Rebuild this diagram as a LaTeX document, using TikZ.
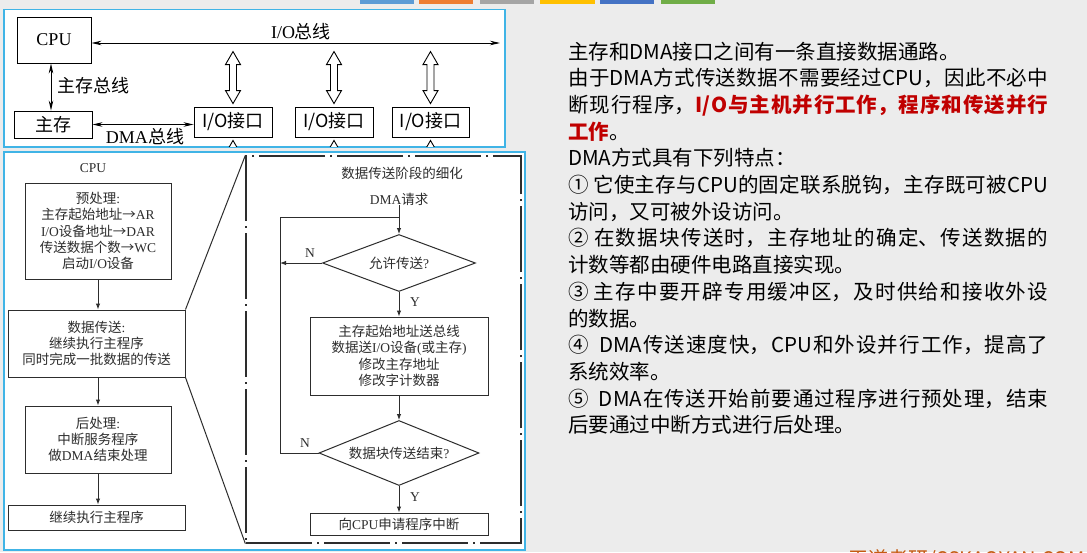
\documentclass[tikz,border=0pt]{standalone}
\usepackage{fontspec}
\setmainfont{Liberation Serif}
\newfontfamily\cjk{Noto Sans CJK SC}
\newfontfamily\lat{Liberation Serif}
\usetikzlibrary{arrows.meta,shapes.geometric}
\XeTeXlinebreaklocale "zh"
\XeTeXlinebreakskip=0pt plus 4pt
\newcommand\en[1]{{\lat #1}}
\newcommand\szA{\fontsize{18pt}{20pt}\selectfont}
\newcommand\szC{\fontsize{13.5pt}{16.3pt}\selectfont}
\newcommand\szR{\fontsize{20.5pt}{26.7pt}\selectfont}
\definecolor{bg}{RGB}{236,236,236}
\definecolor{panel}{RGB}{64,180,230}
\definecolor{ink}{RGB}{45,45,45}
\definecolor{hl}{RGB}{192,0,0}
\definecolor{wm}{RGB}{197,90,17}
\definecolor{barA}{RGB}{91,155,213}
\definecolor{barB}{RGB}{237,125,49}
\definecolor{barC}{RGB}{165,165,165}
\definecolor{barD}{RGB}{255,192,0}
\definecolor{barE}{RGB}{68,114,196}
\definecolor{barF}{RGB}{112,173,71}
\newcommand\hollowup[1]{\draw[hol] (#1.north) ++(0,-3) -- ++(7.5,-13) -- ++(-4,0) -- ++(0,-26) -- ++(4,0) -- ++(-7.5,-13) -- ++(-7.5,13) -- ++(4,0) -- ++(0,26) -- ++(-4,0) -- cycle;}
\newcommand\hollowdown[1]{\draw[hol] (#1.south) ++(0,3) -- ++(7.5,13) -- ++(-4,0) -- ++(0,26) -- ++(4,0) -- ++(-7.5,13) -- ++(-7.5,-13) -- ++(4,0) -- ++(0,-26) -- ++(-4,0) -- cycle;}
\tikzset{
  tbox/.style={draw=black, line width=0.9pt, inner sep=0, fill=white},
  dbl/.style={draw=black, line width=0.9pt, {Stealth[length=10pt,width=4.5pt]}-{Stealth[length=10pt,width=4.5pt]}},
  hol/.style={draw=black, line width=0.9pt, fill=white},
  ln/.style={draw=ink, line width=1pt},
  arr/.style={ln, -{Latex[length=6pt,width=4.5pt]}},
  fbox/.style={draw=ink, line width=1pt, inner sep=0, align=center, font=\szC\cjk, text=ink},
  lbl/.style={inner sep=0, font=\szC\cjk, text=ink},
  dia/.style={diamond, draw=ink, line width=1pt, inner sep=0, font=\szC\cjk, text=ink},
  panelbox/.style={draw=panel, line width=1.5pt, fill=white}
}
\begin{document}
\begin{tikzpicture}[x=1pt,y=-1pt]
\useasboundingbox (0,0) rectangle (1087,552);
\fill[bg] (0,0) rectangle (1087,552);
% top colour bars
\fill[barA] (360,0) rectangle (414,4);
\fill[barB] (419,0) rectangle (473,4);
\fill[barC] (480,0) rectangle (534,4);
\fill[barD] (540,0) rectangle (595,4);
\fill[barE] (600,0) rectangle (654,4);
\fill[barF] (661,0) rectangle (715,4);
% panels
\draw[panelbox] (4,9.5) rectangle (505,147);
\draw[panelbox] (4,152) rectangle (525,550);

% ---------- top panel ----------
\node[tbox, minimum width=74pt, minimum height=46pt, font=\szA] (cpu) at (54,40) {CPU};
\node[tbox, minimum width=78pt, minimum height=27pt, font=\szA\cjk] (mem) at (53,124.5) {主存};
\node[tbox, minimum width=78pt, minimum height=30pt, font=\szA\cjk] (io1) at (233,122) {I/O接口};
\node[tbox, minimum width=78pt, minimum height=30pt, font=\szA\cjk] (io2) at (334,122) {I/O接口};
\node[tbox, minimum width=77pt, minimum height=30pt, font=\szA\cjk] (io3) at (430.5,122) {I/O接口};
\coordinate (busR) at (500,43);
\draw[dbl] (cpu.east |- busR) -- (busR);
\node[inner sep=0, font=\szA\cjk] (iobus) at (301,32) {\en{I/O}总线};
\draw[dbl] ([xshift=-3pt]cpu.south) -- ([xshift=-3pt]cpu.south |- mem.north);
\node[inner sep=0, font=\szA\cjk, anchor=west] (membus) at (57,86) {主存总线};
\draw[dbl] (mem.east) -- (mem.east -| io1.west);
\node[inner sep=0, font=\szA\cjk] (dmabus) at (145,137) {\en{DMA}总线};
\hollowup{io1}
\hollowup{io2}
\hollowup{io3}
\begin{scope}
\clip (4,9.5) rectangle (505,146.2);
\hollowdown{io1}
\hollowdown{io2}
\hollowdown{io3}
\end{scope}

% ---------- bottom-left flow ----------
\node[lbl, font=\szC] (cpulbl) at (93,168) {CPU};
\node[fbox, minimum width=146pt, minimum height=96pt] (b1) at (98,231)
  {预处理\en{:}\\主存起始地址→\en{AR}\\\en{I/O}设备地址→\en{DAR}\\传送数据个数→\en{WC}\\启动\en{I/O}设备};
\node[fbox, minimum width=177pt, minimum height=67pt] (b2) at (96.5,343.5)
  {数据传送\en{:}\\继续执行主程序\\同时完成一批数据的传送};
\node[fbox, minimum width=146pt, minimum height=67pt] (b3) at (98,439.5)
  {后处理\en{:}\\中断服务程序\\做\en{DMA}结束处理};
\node[fbox, minimum width=177pt, minimum height=25pt] (b4) at (96.5,517.5) {继续执行主程序};
\draw[arr] (b1.south) -- (b1.south |- b2.north);
\draw[arr] (b1.south |- b2.south) -- (b1.south |- b3.north);
\draw[arr] (b3.south) -- (b3.south |- b4.north);

% ---------- detail box ----------
\node[draw=ink, line width=1.3pt, dash pattern=on 66pt off 5pt on 2pt off 5pt, minimum width=275pt, minimum height=387pt, inner sep=0] (detail) at (383.5,349.5) {};
\draw[ln] (b2.north east) -- (detail.north west);
\draw[ln] (b2.south east) -- (detail.south west);
\node[lbl] (dtitle) at (402,173) {数据传送阶段的细化};
\node[lbl] (req) at (399,199) {\en{DMA}请求};
\node[dia, aspect=2.68, minimum width=153pt, minimum height=57pt] (d1) at (399,263) {允许传送\en{?}};
\node[fbox, minimum width=178pt, minimum height=78pt] (p) at (399,356)
  {主存起始地址送总线\\数据送\en{I/O}设备\en{(}或主存\en{)}\\修改主存地址\\修改字计数器};
\node[dia, aspect=2.46, minimum width=160pt, minimum height=65pt] (d2) at (399,453) {数据块传送结束\en{?}};
\node[fbox, minimum width=178pt, minimum height=22pt] (irq) at (399,524) {向\en{CPU}申请程序中断};
\coordinate (lc) at (280,217);
\coordinate (jn) at (399,217);
\draw[arr] (req.south) -- (d1.north);
\draw[ln] (d2.west) -| (lc) -- (jn);
\draw[arr] (d1.west) -- (d1.west -| lc);
\draw[arr] (d1.south) -- (p.north);
\draw[arr] (p.south) -- (d2.north);
\draw[arr] (d2.south) -- (irq.north);
\node[lbl, font=\szC] (n1) at (310,253) {N};
\node[lbl, font=\szC] (n2) at (305,443) {N};
\node[lbl, font=\szC] (y1) at (415,302) {Y};
\node[lbl, font=\szC] (y2) at (415,497) {Y};

% ---------- right text ----------
\node[anchor=base west, inner sep=0, text width=480pt, align=justify, font=\szR\cjk] (txt) at (568,59) {\tolerance=10000
主存和DMA接口之间有一条直接数据通路。\\
由于DMA方式传送数据不需要经过CPU，因此不必中\linebreak
断现行程序，{\color{hl}\bfseries I/O与主机并行工作，程序和传送并行\linebreak
工作}。\\
DMA方式具有下列特点：\\
① 它使主存与CPU的固定联系脱钩，主存既可被CPU\linebreak
访问，又可被外设访问。\\
② 在数据块传送时，主存地址的确定、传送数据的\linebreak
计数等都由硬件电路直接实现。\\
③ 主存中要开辟专用缓冲区，及时供给和接收外设\linebreak
的数据。\\
④\ \ DMA传送速度快，CPU和外设并行工作，提高了\linebreak
系统效率。\\
⑤\ \ DMA在传送开始前要通过程序进行预处理，结束\linebreak
后要通过中断方式进行后处理。};

\begin{scope}
\clip (0,0) rectangle (1087,552);
\node[anchor=base west, inner sep=0, font=\fontsize{20pt}{22pt}\selectfont\cjk, text=wm] (wmk) at (848,566) {王道考研/CSKAOYAN.COM};
\end{scope}
\end{tikzpicture}
\end{document}
